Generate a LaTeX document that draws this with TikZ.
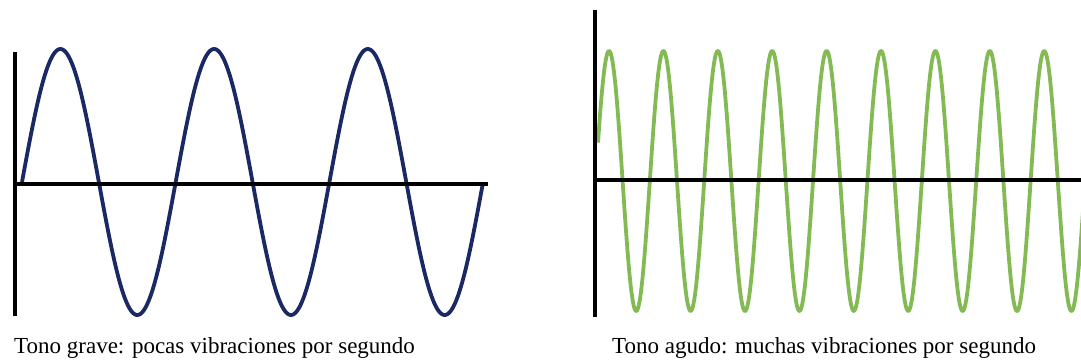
\documentclass[tikz,border=0pt]{standalone}
\usepackage{fontspec}
\setmainfont{Liberation Serif}
\definecolor{wavenavy}{RGB}{26,40,100}
\definecolor{wavegreen}{RGB}{132,186,84}
\begin{document}
\begin{tikzpicture}[x=1pt,y=-1pt,
  axisline/.style={black,line width=4pt},
  lowwave/.style={wavenavy,line width=3.8pt,line join=round},
  highwave/.style={wavegreen,line width=3.8pt,line join=round},
  caption/.style={anchor=base west,inner sep=0pt,font=\fontsize{23}{27}\selectfont}]
\useasboundingbox (0,0) rectangle (1081,361);
\clip (0,0) rectangle (1081,361);
% left panel
\draw[lowwave] plot[domain=22:483,samples=400,smooth] (\x,{182-133*sin(2.3422*(\x-22))});
\coordinate (lv1) at (15,52);
\coordinate (lv2) at (15,316);
\coordinate (lh1) at (13,184);
\coordinate (lh2) at (488,184);
\draw[axisline] (lv1) -- (lv2);
\draw[axisline] (lh1) -- (lh2);
\node[caption] (lcap) at (14,353) {Tono grave: pocas vibraciones por segundo};
% right panel
\draw[highwave] plot[domain=598:1085,samples=800,smooth] (\x,{181-130*cos(6.6176*(\x-609))});
\coordinate (rv1) at (595,10);
\coordinate (rv2) at (595,317);
\coordinate (rh1) at (593,180);
\coordinate (rh2) at (1085,180);
\draw[axisline] (rv1) -- (rv2);
\draw[axisline] (rh1) -- (rh2);
\node[caption] (rcap) at (612,353) {Tono agudo: muchas vibraciones por segundo};
\end{tikzpicture}
\end{document}
